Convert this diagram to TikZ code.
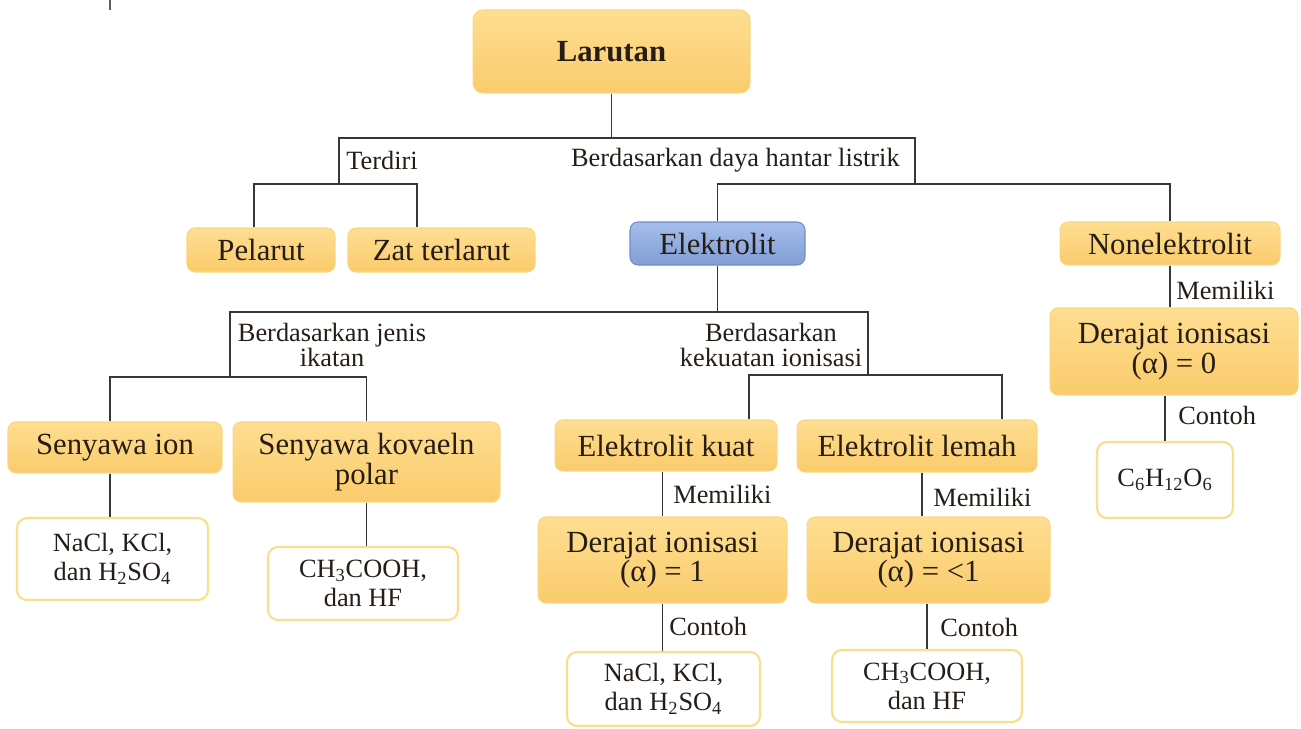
\documentclass[tikz,border=0pt]{standalone}
\usepackage{fontspec}
\setmainfont{Liberation Serif}

\definecolor{boxtop}{RGB}{254,222,145}
\definecolor{boxbot}{RGB}{250,203,108}
\definecolor{boxline}{RGB}{249,214,128}
\definecolor{exline}{RGB}{249,222,140}
\definecolor{bluetop}{RGB}{166,190,236}
\definecolor{bluebot}{RGB}{128,157,214}
\definecolor{blueline}{RGB}{112,140,200}
\definecolor{linecol}{RGB}{55,55,55}
\definecolor{textcol}{RGB}{38,30,22}

\newcommand{\boxsize}{\fontsize{17.5}{14.5}\selectfont}
\newcommand{\labsize}{\fontsize{15}{14.5}\selectfont}
\newcommand{\exsize}{\fontsize{15}{16.5}\selectfont}

\tikzset{
  box/.style={draw=boxline, line width=0.6pt, rounded corners=0.16cm,
    top color=boxtop, bottom color=boxbot, inner sep=0pt,
    align=center, text=textcol, font=\boxsize},
  bluebox/.style={box, draw=blueline, top color=bluetop, bottom color=bluebot},
  example/.style={draw=exline, line width=1.2pt, fill=white,
    rounded corners=0.2cm, inner sep=0pt, align=center,
    text=textcol, font=\exsize},
  lab/.style={inner sep=0pt, align=center, text=textcol, font=\labsize},
  link/.style={draw=linecol, line width=1.1pt}
}

\begin{document}
\begin{tikzpicture}[x=0.02cm,y=-0.02cm]
\useasboundingbox (0,0) rectangle (1301,728);

% boxes
\node[box, minimum width=5.54cm, minimum height=1.66cm, rounded corners=0.2cm,
  font=\boxsize\bfseries] (lar) at (611.5,51.5) {Larutan};
\node[box, minimum width=2.96cm, minimum height=0.88cm] (pel) at (261,250) {Pelarut};
\node[box, minimum width=3.74cm, minimum height=0.88cm] (zat) at (441.5,250) {Zat terlarut};
\node[bluebox, minimum width=3.5cm, minimum height=0.86cm] (elk) at (717.5,243.5) {Elektrolit};
\node[box, minimum width=4.4cm, minimum height=0.86cm] (non) at (1170,243.5) {Nonelektrolit};
\node[box, minimum width=4.28cm, minimum height=1.02cm] (ion) at (115,447.5) {Senyawa ion};
\node[box, minimum width=5.34cm, minimum height=1.6cm] (kov) at (366.5,462) {Senyawa kovaeln\\polar};
\node[box, minimum width=4.44cm, minimum height=1.02cm] (kuat) at (666,445.5) {Elektrolit kuat};
\node[box, minimum width=4.8cm, minimum height=1.04cm] (lemah) at (917,446) {Elektrolit lemah};
\node[box, minimum width=4.98cm, minimum height=1.72cm] (dk) at (662.5,560) {Derajat ionisasi\\(α) = 1};
\node[box, minimum width=4.86cm, minimum height=1.72cm] (dl) at (928.5,560) {Derajat ionisasi\\(α) = <1};
\node[box, minimum width=4.96cm, minimum height=1.74cm] (dn) at (1174,351.5) {Derajat ionisasi\\(α) = 0};

% examples
\node[example, minimum width=3.82cm, minimum height=1.64cm] (ci) at (112.5,559)
  {NaCl, KCl,\\dan H\textsubscript{2}SO\textsubscript{4}};
\node[example, minimum width=3.8cm, minimum height=1.46cm] (ck) at (363,583.5)
  {CH\textsubscript{3}COOH,\\dan HF};
\node[example, minimum width=3.86cm, minimum height=1.48cm] (nk) at (663.5,689)
  {NaCl, KCl,\\dan H\textsubscript{2}SO\textsubscript{4}};
\node[example, minimum width=3.8cm, minimum height=1.44cm] (hl) at (927,686)
  {CH\textsubscript{3}COOH,\\dan HF};
\node[example, minimum width=2.72cm, minimum height=1.52cm] (cn) at (1165,480)
  {C\textsubscript{6}H\textsubscript{12}O\textsubscript{6}};

% junction points
\coordinate (jL) at (339,138);
\coordinate (jR) at (915,138);
\coordinate (kL) at (339,184);
\coordinate (kR) at (915,184);
\coordinate (mL) at (230,312);
\coordinate (mR) at (868,312);
\coordinate (nL) at (230,377);
\coordinate (nR) at (868,375);
\coordinate (xP) at (254,0);
\coordinate (xZ) at (417,0);
\coordinate (xI) at (110,0);
\coordinate (xQ) at (749,0);
\coordinate (xW) at (1002,0);
\coordinate (xS) at (922,0);

% level 1
\draw[link] (lar.south) -- (lar.south |- jL);
\draw[link] (kL) -- (jL) -- (jR) -- (kR);
\draw[link] (pel.north -| xP) |- (kL) -| (zat.north -| xZ);
\draw[link] (elk.north) |- (kR) -| (non.north);
% level 2
\draw[link] (elk.south) -- (elk.south |- mL);
\draw[link] (nL) -- (mL) -- (mR) -- (nR);
\draw[link] (ion.north -| xI) |- (nL) -| (kov.north);
\draw[link] (kuat.north -| xQ) |- (nR) -| (lemah.north -| xW);
% stems
\draw[link] (ion.south -| xI) -- (ci.north -| xI);
\draw[link] (kov.south) -- (kov.south |- ck.north);
\draw[link] (dk.north |- kuat.south) -- (dk.north);
\draw[link] (dk.south) -- (dk.south |- nk.north);
\draw[link] (lemah.south -| xS) -- (dl.north -| xS);
\draw[link] (dl.south -| hl.north) -- (hl.north);
\draw[link] (non.south) -- (non.south |- dn.north);
\draw[link] (cn.north) -- (cn.north |- dn.south);

% labels
\node[lab, anchor=west] (tTerdiri) at (346,160) {Terdiri};
\node[lab, anchor=east] (tDaya) at (900,160) {Berdasarkan daya hantar listrik};
\node[lab] (tJenis) at (332,345) {Berdasarkan jenis\\ikatan};
\node[lab] (tKekuatan) at (771,345) {Berdasarkan\\kekuatan ionisasi};
\node[lab, anchor=west] (mKuat) at (673,494) {Memiliki};
\node[lab, anchor=west] (mLemah) at (933,497) {Memiliki};
\node[lab, anchor=west] (mNon) at (1176,290) {Memiliki};
\node[lab, anchor=west] (cKuat) at (669,626) {Contoh};
\node[lab, anchor=west] (cLemah) at (940,627) {Contoh};
\node[lab, anchor=west] (cNon) at (1178,415) {Contoh};

% small mark at the top edge
\draw[link, linecol!80] (110,0) -- (110,10);
\end{tikzpicture}
\end{document}
